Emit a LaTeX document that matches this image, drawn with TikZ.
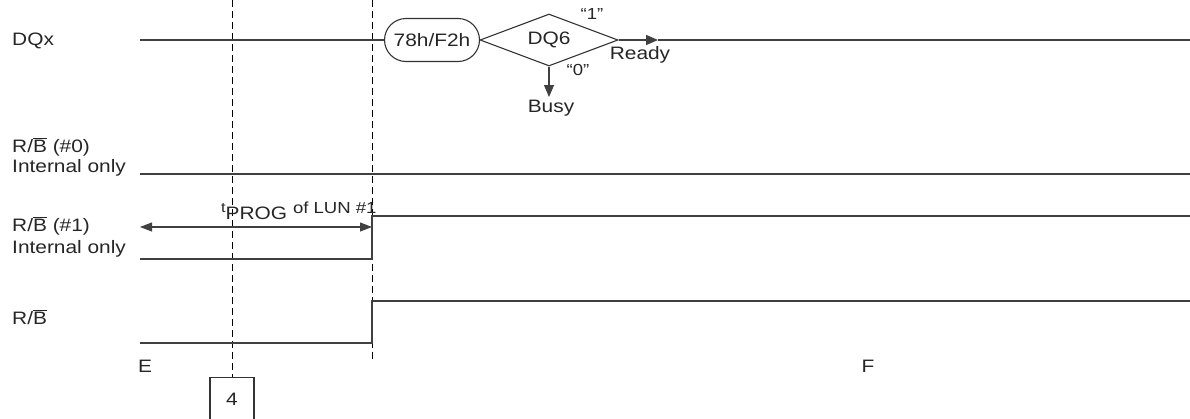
\documentclass[tikz,border=0pt]{standalone}
\usepackage{fontspec}
\setmainfont[FakeStretch=1.16]{Liberation Sans}
\usetikzlibrary{arrows.meta,shapes.geometric,shapes.misc}
\newcommand\rbar{R/$\overline{\mbox{B}}$}
\begin{document}
\begin{tikzpicture}[x=1pt,y=-1pt,
  wave/.style={line width=1.1pt, draw=black!75},
  guide/.style={line width=1pt, draw=black, dash pattern=on 7pt off 4pt},
  lbl/.style={font=\fontsize{18}{21}\selectfont, text=black!85, inner sep=0pt},
  small/.style={font=\fontsize{16}{18}\selectfont, text=black!85, inner sep=0pt},
  tip/.style={-{Triangle[length=12pt,width=10pt]}},
  shp/.style={draw=black!80, line width=1.1pt}]
\useasboundingbox (0,0) rectangle (1190,418);
% left labels
\node[lbl,anchor=west] (dqx) at (12,41) {DQx};
\node[lbl,anchor=west] (rb0) at (12,147) {\rbar\ (\#0)};
\node[lbl,anchor=west] (io0) at (12,168) {Internal only};
\node[lbl,anchor=west] (rb1) at (12,226) {\rbar\ (\#1)};
\node[lbl,anchor=west] (io1) at (12,249) {Internal only};
\node[lbl,anchor=west] (rb) at (12,317) {\rbar};
\node[lbl] (E) at (145,366) {E};
\node[lbl] (F) at (868,366) {F};
% guides
\node[shp, lbl, minimum width=44pt, minimum height=43pt] (b4) at (232,399) {4};
\coordinate (g1top) at (232,0);
\draw[guide] (g1top) -- (b4.north);
\coordinate (g2top) at (372,0);
\coordinate (g2bot) at (372,360);
\draw[guide] (g2top) -- (g2bot);
% DQx flow
\node[shp, lbl, rounded rectangle, minimum width=95pt, minimum height=43pt] (cmd) at (432,40) {78h/F2h};
\node[shp, lbl, diamond, aspect=2.65, minimum width=138pt, minimum height=52pt] (dq6) at (549,40) {DQ6};
\coordinate (dqs) at (140,40);
\draw[wave] (dqs) -- (cmd.west);
\coordinate (rdytip) at (658,40);
\coordinate (dqe) at (1190,40);
\draw[wave,tip] (dq6.east) -- (rdytip);
\draw[wave] (rdytip) -- (dqe);
\coordinate (busytip) at (549,97);
\draw[wave,tip] (dq6.south) -- (busytip);
\node[lbl] (busy) at (551,108) {Busy};
\node[lbl] (ready) at (640,55) {Ready};
\node[small] (one) at (592,14) {“1”};
\node[small] (zero) at (578,70) {“0”};
% R/B #0
\coordinate (a0) at (140,174);
\coordinate (a1) at (1190,174);
\draw[wave] (a0) -- (a1);
% R/B #1
\coordinate (b0) at (140,259);
\coordinate (b1) at (372,259);
\coordinate (b2) at (372,216);
\coordinate (b3) at (1190,216);
\draw[wave] (b0) -- (b1) -- (b2) -- (b3);
\coordinate (t0) at (140,227);
\coordinate (t1) at (372,227);
\draw[wave,{Triangle[length=12pt,width=9pt]}-{Triangle[length=12pt,width=9pt]}] (t0) -- (t1);
\node[lbl, anchor=base west] (tprog) at (221,219) {\raisebox{7pt}{\fontsize{14}{14}\selectfont t}PROG\ \raisebox{6pt}{\fontsize{16}{16}\selectfont of LUN \#1}};
% R/B
\coordinate (c0) at (140,343);
\coordinate (c1) at (372,343);
\coordinate (c2) at (372,301);
\coordinate (c3) at (1190,301);
\draw[wave] (c0) -- (c1) -- (c2) -- (c3);
\end{tikzpicture}
\end{document}
